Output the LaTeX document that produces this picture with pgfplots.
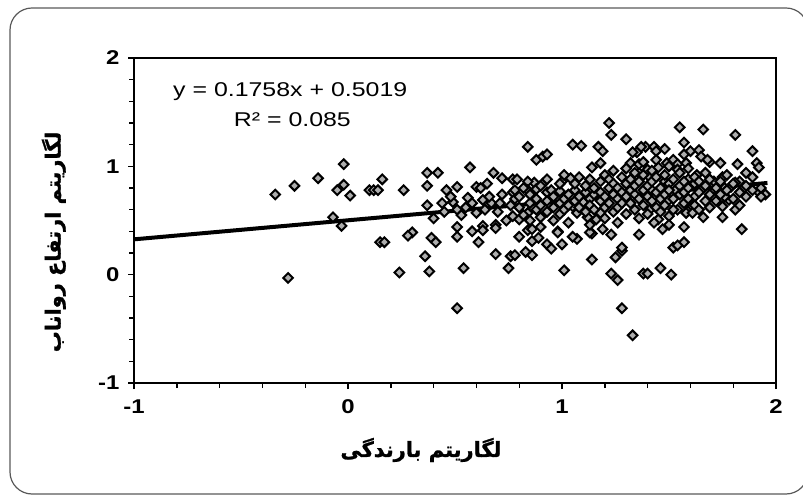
\documentclass[border=0pt]{standalone}
\usepackage{pgfplots}
\pgfplotsset{compat=1.18}
\usepackage{pgfplotstable}
\usepackage{graphicx}
\usepackage{fontspec}
\setmainfont{Liberation Sans}
\newfontfamily\fa[Script=Arabic, BoldFeatures={FakeBold=1.2}]{DejaVu Sans}
\TeXXeTstate=1
\definecolor{mk}{gray}{0.68}
\newcommand\sx[1]{\scalebox{1.2}[1]{#1}}

% log rainfall vs log runoff height
\pgfplotstableread{
x y
-0.34 0.74
-0.25 0.82
-0.14 0.89
-0.28 -0.03
-0.02 1.02
-0.05 0.78
-0.02 0.83
0.01 0.73
-0.07 0.53
-0.03 0.45
0.10 0.78
0.12 0.78
0.14 0.78
0.16 0.88
0.15 0.30
0.26 0.78
0.37 0.94
0.42 0.94
0.37 0.82
0.57 0.99
0.46 0.78
0.51 0.81
0.60 0.81
0.65 0.84
0.68 0.94
0.72 0.89
0.77 0.88
0.37 0.64
0.44 0.66
0.49 0.67
0.56 0.71
0.58 0.66
0.63 0.69
0.67 0.66
0.71 0.66
0.77 0.76
0.51 0.60
0.53 0.55
0.77 0.54
0.51 0.44
0.63 0.45
0.69 0.46
0.17 0.30
0.30 0.39
0.28 0.36
0.39 0.34
0.41 0.30
0.51 0.35
0.58 0.40
0.61 0.30
0.63 0.41
0.69 0.43
0.36 0.17
0.24 0.02
0.38 0.03
0.54 0.06
0.51 -0.31
0.69 0.19
0.76 0.17
0.75 0.06
0.55 0.62
0.60 0.57
0.64 0.60
0.66 0.72
0.70 0.58
0.72 0.74
0.74 0.50
0.76 0.64
0.78 0.70
0.62 0.80
0.45 0.58
0.48 0.72
0.40 0.52
0.80 0.35
0.84 0.41
0.86 0.31
0.89 0.34
0.93 0.28
0.95 0.24
1.00 0.28
0.98 0.40
1.07 0.33
1.14 0.38
1.19 0.42
1.23 0.37
1.36 0.37
0.83 0.21
0.86 0.18
0.78 0.18
1.14 0.14
1.01 0.04
1.28 0.22
1.25 0.16
1.23 0.01
1.26 -0.05
1.38 0.01
1.28 -0.31
1.33 -0.56
1.47 0.42
1.84 0.42
1.52 0.25
1.57 0.30
1.40 0.01
1.46 0.06
1.51 0.00
0.87 0.85
0.91 0.84
0.79 0.88
0.84 0.86
0.78 0.78
0.84 0.78
0.84 1.18
0.88 1.06
0.91 1.09
0.93 1.11
1.05 1.20
1.09 1.19
1.00 0.86
1.04 0.89
1.14 0.99
1.18 1.03
1.17 1.18
1.19 1.14
1.22 1.40
1.23 1.29
1.30 1.25
0.80 0.51
0.84 0.57
0.86 0.42
0.90 0.44
0.93 0.76
0.95 0.78
0.98 0.39
1.05 0.35
1.13 0.39
1.28 0.25
1.05 0.63
1.07 0.57
1.10 0.67
1.12 0.53
1.16 0.51
1.18 0.57
1.32 1.03
1.35 1.13
1.39 1.18
1.43 1.18
1.44 1.14
1.48 1.16
1.36 0.94
1.40 0.97
1.55 1.36
1.66 1.34
1.81 1.29
1.57 1.22
1.60 1.14
1.64 1.15
1.49 1.03
1.52 1.06
1.54 1.02
1.58 1.03
1.65 1.09
1.69 1.04
1.74 1.03
1.89 1.14
1.91 1.03
1.92 0.99
1.82 1.02
1.86 0.94
1.92 0.76
1.95 0.74
1.83 0.86
1.79 0.81
1.78 0.69
1.75 0.63
1.54 0.27
1.45 0.51
1.66 0.53
1.75 0.53
1.61 0.63
1.58 0.57
1.68 1.06
1.81 0.85
1.75 0.90
1.76 0.80
1.71 0.71
1.76 0.72
1.81 0.60
1.54 0.60
1.50 0.69
1.47 0.77
1.41 0.60
1.58 0.66
1.62 0.72
1.65 0.78
1.63 0.92
1.71 0.86
1.59 0.88
1.54 0.97
1.45 0.99
1.57 1.11
1.53 0.78
1.48 0.86
1.41 0.90
1.42 0.78
1.61 0.57
1.50 0.54
1.43 0.48
1.57 0.44
1.37 1.18
1.33 1.13
1.36 1.02
0.80 0.62
0.80 0.72
0.82 0.55
0.82 0.80
0.85 0.66
0.85 0.74
0.85 0.50
0.88 0.60
0.88 0.70
0.88 0.79
0.90 0.53
0.90 0.64
0.90 0.82
0.93 0.68
0.93 0.58
0.93 0.88
0.96 0.62
0.96 0.72
0.96 0.50
0.99 0.66
0.99 0.77
0.99 0.56
0.99 0.84
1.01 0.70
1.01 0.60
1.01 0.92
1.03 0.74
1.03 0.64
1.03 0.48
1.06 0.78
1.06 0.68
1.06 0.84
1.08 0.62
1.08 0.72
1.08 0.90
1.11 0.76
1.11 0.58
1.11 0.82
1.13 0.70
1.13 0.64
1.13 0.88
1.13 0.46
1.15 0.74
1.15 0.80
1.15 0.60
1.18 0.68
1.18 0.86
1.18 0.76
1.20 0.72
1.20 0.62
1.20 0.92
1.20 0.52
1.22 0.80
1.22 0.66
1.22 0.88
1.24 0.74
1.24 0.58
1.24 0.96
1.24 0.84
1.26 0.70
1.26 0.80
1.26 0.62
1.26 0.48
1.28 0.76
1.28 0.90
1.28 0.66
1.30 0.84
1.30 0.72
1.30 0.56
1.30 0.98
1.32 0.78
1.32 0.66
1.32 0.88
1.34 0.74
1.34 0.82
1.34 0.60
1.34 0.94
1.36 0.70
1.36 0.86
1.36 0.52
1.38 0.78
1.38 0.64
1.38 0.92
1.38 1.04
1.40 0.82
1.40 0.72
1.40 0.56
1.42 0.86
1.42 0.68
1.42 0.96
1.44 0.76
1.44 0.62
1.44 0.90
1.44 1.06
1.46 0.80
1.46 0.70
1.46 0.58
1.48 0.92
1.48 0.74
1.48 0.64
1.50 0.84
1.50 0.78
1.50 1.00
1.50 0.46
1.52 0.70
1.52 0.88
1.52 0.60
1.55 0.82
1.55 0.74
1.55 0.94
1.57 0.66
1.57 0.86
1.57 0.76
1.59 0.80
1.59 0.70
1.59 0.98
1.62 0.84
1.62 0.64
1.62 0.90
1.64 0.76
1.64 0.60
1.64 0.86
1.67 0.82
1.67 0.68
1.67 0.94
1.69 0.74
1.69 0.88
1.69 0.62
1.72 0.80
1.72 0.68
1.74 0.86
1.74 0.74
1.77 0.78
1.77 0.92
1.80 0.70
1.80 0.84
1.83 0.76
1.83 0.64
1.86 0.82
1.86 0.72
1.89 0.90
1.89 0.78
1.93 0.72
1.93 0.80
}\pts

\begin{document}
\begin{tikzpicture}
\useasboundingbox (0bp,0bp) rectangle (803bp,496bp);
\draw[line width=1.2bp, black!65, rounded corners=22bp] (10bp,2bp) rectangle (808bp,488bp);
\begin{axis}[
    at={(134bp,113bp)}, anchor=south west,
    width=642bp, height=325bp, scale only axis,
    xmin=-1, xmax=2, ymin=-1, ymax=2,
    xtick={-1,0,1,2}, ytick={-1,0,1,2},
    xticklabels={\sx{-1},\sx{0},\sx{1},\sx{2}},
    yticklabels={\sx{-1},\sx{0},\sx{1},\sx{2}},
    minor tick num=4,
    tick align=outside,
    xtick pos=left, ytick pos=left,
    major tick length=6bp, minor tick length=5bp,
    every tick/.style={black, line width=1.4bp},
    axis line style={line width=2.6bp},
    ticklabel style={font=\bfseries\fontsize{20}{20}\selectfont},
    xticklabel style={yshift=-7bp},
    yticklabel style={xshift=-5bp},
    xlabel={\fa\bfseries\beginR لگاریتم بارندگی\endR},
    ylabel={\fa\bfseries\beginR لگاریتم ارتفاع رواناب\endR},
    xlabel style={at={(axis description cs:0.447,-0.206)}, anchor=center, font=\fontsize{21}{21}\selectfont},
    ylabel style={at={(axis description cs:-0.125,0.434)}, anchor=center, font=\fontsize{21}{21}\selectfont},
    clip=false,
]
\addplot[only marks, mark=square*, mark size=3.4bp,
    mark options={rotate=45, fill=mk, draw=black, line width=2bp}]
    table {\pts};
\addplot[black, line width=4bp] coordinates {(-1,0.3261) (1.96,0.8465)};
\node[font=\fontsize{20}{20}\selectfont] at (axis cs:-0.27,1.69) {\scalebox{1.25}[1]{y = 0.1758x + 0.5019}};
\node[font=\fontsize{20}{20}\selectfont] at (axis cs:-0.26,1.43) {\scalebox{1.25}[1]{R² = 0.085}};
\end{axis}
\end{tikzpicture}
\end{document}
